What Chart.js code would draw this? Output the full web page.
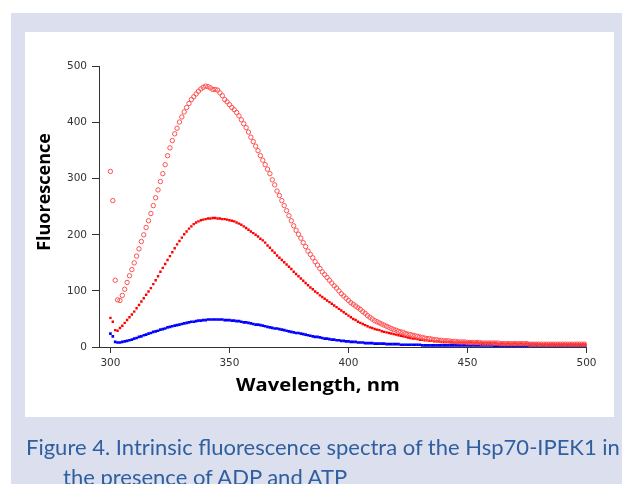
<!DOCTYPE html>
<html>
<head>
<meta charset="utf-8">
<script src="https://cdn.jsdelivr.net/npm/chart.js@4.4.1/dist/chart.umd.min.js"></script>
<style>
    html, body { margin: 0; padding: 0; background: #fff; }
    body { width: 622px; height: 484px; position: relative; overflow: hidden; }
    .panel { position: absolute; left: 11px; top: 13px; width: 611px; height: 471px; background: #dcdfee; }
    .plot-bg { position: absolute; left: 25px; top: 32px; width: 589px; height: 385px; background: #fff; }
    #chart { position: absolute; left: 0; top: 0; }
    .caption {
        position: absolute; left: 26px; top: 432px; width: 620px;
        font-family: Lato, "Open Sans", sans-serif; font-size: 22px; line-height: 30px;
        color: #2f5f9f; white-space: nowrap;
    }
    .caption .indent { padding-left: 37px; }
</style>
</head>
<body>
<div class="panel"></div>
<div class="plot-bg"></div>
<canvas id="chart" width="622" height="484"></canvas>
<div class="caption">
    <div>Figure 4. Intrinsic fluorescence spectra of the Hsp70-IPEK1 in</div>
    <div class="indent">the presence of ADP and ATP</div>
</div>
<script>
(function() {
    'use strict';

    // spectra were sampled every 1 nm from 300 to 500 nm
    const WL_START = 300;
    const WL_STEP = 1;

    const X_TICKS = [300, 350, 400, 450, 500];
    const Y_TICKS = [0, 100, 200, 300, 400, 500];
    const X_TITLE = 'Wavelength, nm';
    const Y_TITLE = 'Fluorescence';

    // open red circles
    const openRed = [
        313, 261, 119, 84, 83, 92, 103, 115, 127, 138,
        150, 162, 175, 188, 200, 213, 225, 238, 252, 266,
        280, 295, 309, 325, 341, 355, 368, 380, 390, 401,
        410, 419, 427, 434, 441, 446, 451, 456, 460, 463,
        465, 464, 462, 459, 459, 458, 453, 448, 441, 437,
        432, 427, 423, 418, 412, 405, 398, 391, 383, 374,
        366, 358, 350, 341, 333, 325, 317, 309, 298, 289,
        278, 270, 261, 252, 243, 234, 225, 216, 208, 201,
        194, 186, 179, 171, 165, 159, 152, 146, 140, 134,
        129, 124, 119, 114, 109, 105, 100, 95, 91, 87,
        83, 79, 76, 73, 70, 67, 63, 60, 56, 53,
        50, 47, 45, 43, 41, 39, 37, 35, 33, 31,
        30, 28, 27, 26, 24, 23, 22, 21, 20, 19,
        18, 17, 16, 15, 15, 14, 13, 13, 12, 12,
        11, 11, 11, 10, 10, 10, 9, 9, 9, 9,
        8, 8, 8, 8, 8, 8, 7, 7, 7, 7,
        7, 7, 7, 7, 6, 6, 6, 6, 6, 6,
        6, 6, 6, 6, 6, 6, 5, 5, 5, 5,
        5, 5, 5, 5, 5, 5, 5, 5, 5, 5,
        5, 5, 5, 5, 5, 5, 5, 5, 5, 5,
        5
    ];

    // filled red squares
    const filledRed = [
        52, 45, 30, 29, 34, 38, 43, 48, 53, 58,
        63, 69, 75, 81, 87, 93, 99, 105, 112, 119,
        126, 134, 141, 148, 155, 162, 169, 176, 183, 189,
        195, 201, 206, 211, 215, 219, 222, 224, 226, 227,
        228, 229, 229, 230, 230, 229, 229, 228, 228, 227,
        226, 225, 224, 222, 220, 218, 215, 212, 209, 206,
        203, 200, 197, 193, 190, 186, 181, 177, 172, 168,
        163, 159, 155, 151, 147, 143, 139, 134, 130, 126,
        122, 118, 114, 110, 106, 103, 99, 96, 92, 89,
        86, 83, 80, 77, 74, 71, 68, 65, 62, 59,
        56, 53, 50, 48, 45, 43, 41, 39, 37, 35,
        34, 32, 31, 30, 28, 27, 26, 25, 24, 23,
        22, 21, 20, 19, 18, 17, 16, 15, 15, 14,
        13, 13, 12, 12, 11, 11, 10, 10, 10, 9,
        9, 9, 9, 9, 8, 8, 8, 8, 8, 8,
        8, 8, 8, 7, 7, 7, 7, 7, 7, 7,
        7, 7, 7, 6, 6, 6, 6, 6, 6, 6,
        6, 6, 6, 6, 6, 6, 6, 6, 6, 6,
        5, 5, 5, 5, 5, 5, 5, 5, 5, 5,
        5, 5, 5, 5, 5, 5, 5, 5, 5, 5,
        5
    ];

    // blue
    const blue = [
        24, 19, 9, 8, 8, 9, 10, 11, 12, 13,
        15, 16, 18, 19, 21, 22, 24, 25, 27, 28,
        29, 31, 32, 33, 35, 36, 37, 38, 39, 40,
        41, 42, 43, 44, 45, 45, 46, 47, 47, 48,
        48, 49, 49, 49, 49, 49, 49, 49, 48, 48,
        48, 47, 47, 46, 46, 45, 44, 44, 43, 42,
        41, 40, 40, 39, 38, 37, 36, 35, 34, 33,
        33, 32, 31, 30, 29, 28, 27, 26, 25, 25,
        24, 23, 22, 21, 20, 19, 18, 18, 17, 16,
        15, 15, 14, 13, 13, 12, 12, 11, 11, 10,
        10, 9, 9, 9, 8, 8, 8, 7, 7, 7,
        7, 6, 6, 6, 6, 6, 5, 5, 5, 5,
        5, 5, 4, 4, 4, 4, 4, 4, 4, 4,
        4, 3, 3, 3, 3, 3, 3, 3, 3, 3,
        3, 3, 3, 3, 3, 3, 3, 3, 3, 3,
        3, 3, 3, 3, 3, 3, 3, 3, 3, 3,
        3, 2, 2, 2, 2, 2, 2, 2, 2, 2,
        2, 2, 2, 2, 2, 2, 2, 2, 2, 2,
        2, 2, 2, 2, 2, 2, 2, 2, 2, 2,
        2, 2, 2, 2, 2, 2, 2, 2, 2, 2,
        2
    ];

    const toPoints = values => values.map((v, i) => ({ x: WL_START + i * WL_STEP, y: v }));

    const axisTitles = {
        id: 'axisTitles',
        afterDraw(chart) {
            const ctx = chart.ctx;
            ctx.save();
            ctx.fillStyle = '#000';
            ctx.font = 'bold 18px "Open Sans"';
            ctx.textAlign = 'center';
            ctx.textBaseline = 'middle';
            ctx.save();
            ctx.translate(318, 386);
            ctx.scale(1.12, 1);
            ctx.fillText(X_TITLE, 0, 0);
            ctx.restore();
            ctx.translate(45, 192);
            ctx.rotate(-Math.PI / 2);
            ctx.fillText(Y_TITLE, 0, 0);
            ctx.restore();
        }
    };

    const tickFont = { family: '"DejaVu Sans"', size: 10.5 };
    const axisColor = '#333';

    new Chart(document.getElementById('chart'), {
        type: 'scatter',
        data: {
            datasets: [{
                label: 'ADP',
                data: toPoints(openRed),
                pointStyle: 'circle',
                pointRadius: 2.2,
                borderWidth: 1,
                borderColor: '#ff5050',
                backgroundColor: 'rgba(255,255,255,0)'
            }, {
                label: 'ATP',
                data: toPoints(filledRed),
                pointStyle: 'rect',
                pointRadius: 1.7,
                borderWidth: 0,
                backgroundColor: '#ff0000'
            }, {
                label: 'Hsp70-IPEK1',
                data: toPoints(blue),
                pointStyle: 'rect',
                pointRadius: 1.9,
                borderWidth: 0,
                backgroundColor: '#0000ff'
            }]
        },
        options: {
            responsive: false,
            animation: false,
            devicePixelRatio: 1,
            layout: { padding: { left: 0, top: 66.5, right: 35.5, bottom: 107 } },
            plugins: { legend: { display: false }, tooltip: { enabled: false } },
            scales: {
                x: {
                    type: 'linear',
                    min: 295.2,
                    max: 500,
                    afterBuildTicks: scale => { scale.ticks = X_TICKS.map(v => ({ value: v })); },
                    afterFit: scale => { scale.height = 30; },
                    grid: { drawOnChartArea: false, tickLength: 6, color: axisColor },
                    border: { color: axisColor, width: 1 },
                    ticks: { color: '#333', font: tickFont, padding: 4, maxRotation: 0 }
                },
                y: {
                    min: 0,
                    max: 500,
                    afterBuildTicks: scale => { scale.ticks = Y_TICKS.map(v => ({ value: v })); },
                    afterFit: scale => { scale.width = 99; },
                    grid: { drawOnChartArea: false, tickLength: 7, color: axisColor },
                    border: { color: axisColor, width: 1 },
                    ticks: { color: '#333', font: tickFont, padding: 5 }
                }
            }
        },
        plugins: [axisTitles]
    });
})();
</script>
</body>
</html>
